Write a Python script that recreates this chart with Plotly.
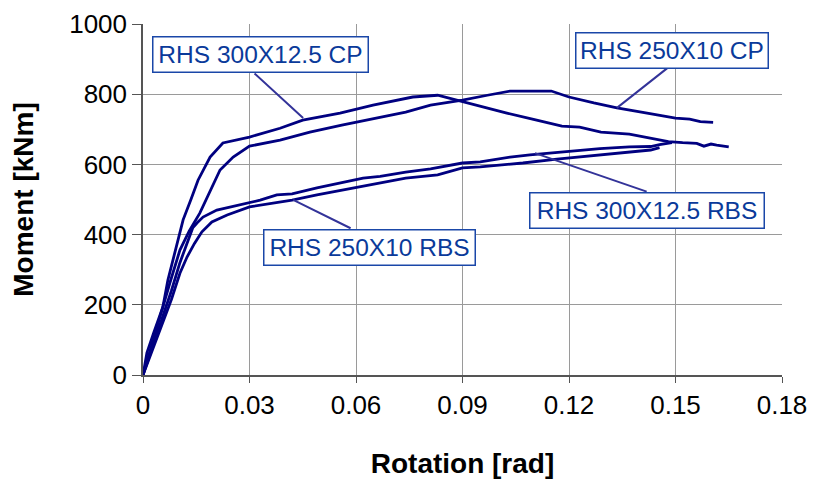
import plotly.graph_objects as go

# RHS 300X12.5 CP
x_300cp = [0, 0.0011, 0.003, 0.0056, 0.007, 0.0092, 0.0113, 0.0135, 0.0155, 0.0189, 0.0225,
           0.030, 0.0386, 0.045, 0.0555, 0.0648, 0.070, 0.076, 0.083, 0.090, 0.0965, 0.1025,
           0.110, 0.118, 0.123, 0.129, 0.137, 0.143, 0.148, 0.152, 0.156, 0.158, 0.160, 0.1616, 0.165]
y_300cp = [0, 63, 120, 194, 270, 360, 442, 500, 555, 621, 661,
           678, 703, 726, 746, 769, 780, 792, 797, 778, 762, 746,
           728, 709, 706, 692, 686, 675, 665, 662, 660, 652, 658, 655, 650]

# RHS 250X10 CP
x_250cp = [0, 0.002, 0.0048, 0.0075, 0.0104, 0.013, 0.016, 0.019, 0.0217, 0.0254, 0.030,
           0.0386, 0.047, 0.056, 0.0668, 0.074, 0.081, 0.090, 0.097, 0.1034, 0.115, 0.120,
           0.127, 0.1335, 0.142, 0.150, 0.154, 0.157, 0.1606]
y_250cp = [0, 70, 165, 260, 356, 410, 461, 525, 584, 621, 652,
           669, 692, 712, 735, 749, 769, 783, 797, 809, 809, 792,
           775, 761, 746, 732, 729, 722, 720]

# RHS 300X12.5 RBS
x_300rbs = [0, 0.002, 0.005, 0.008, 0.0104, 0.0125, 0.014, 0.0152, 0.0169, 0.0208, 0.029,
            0.033, 0.0377, 0.042, 0.049, 0.056, 0.062, 0.0668, 0.074, 0.081, 0.090, 0.095,
            0.1034, 0.109, 0.120, 0.124, 0.1287, 0.137, 0.143, 0.1455, 0.149]
y_300rbs = [0, 60, 150, 240, 320, 380, 419, 433, 450, 470, 490,
            498, 513, 516, 533, 547, 561, 566, 578, 587, 604, 607,
            621, 627, 638, 640, 645, 650, 651, 656, 662]

# RHS 250X10 RBS
x_250rbs = [0, 0.002, 0.005, 0.008, 0.0104, 0.0124, 0.0145, 0.0166, 0.0194, 0.0237, 0.030,
            0.034, 0.042, 0.049, 0.056, 0.062, 0.0668, 0.074, 0.083, 0.090, 0.095, 0.107,
            0.1166, 0.123, 0.1287, 0.137, 0.143, 0.1455]
y_250rbs = [0, 55, 135, 215, 290, 336, 375, 408, 436, 456, 479,
            486, 498, 513, 527, 538, 547, 561, 570, 590, 593, 604,
            615, 621, 627, 635, 641, 648]

labels = ["RHS 300X12.5 CP", "RHS 250X10 CP", "RHS 300X12.5 RBS", "RHS 250X10 RBS"]
# label box centres (data units) and sizes (px)
label_x = [0.0330, 0.1489, 0.1421, 0.0637]
label_y = [913, 924, 470, 363]
label_w = [212, 189, 231, 208]
# leader lines: start (near box) and tip (on curve)
lead_x0 = [0.0310, 0.1499, 0.1423, 0.0589]
lead_y0 = [863, 892, 521, 416]
lead_x1 = [0.0451, 0.1335, 0.1104, 0.0423]
lead_y1 = [732, 761, 632, 499]

FONT = "Liberation Sans, Arial, sans-serif"
NAVY = "#000080"
TXT = "#0a3a9a"

fig = go.Figure()
for xs, ys, name in [(x_300cp, y_300cp, labels[0]), (x_250cp, y_250cp, labels[1]),
                     (x_300rbs, y_300rbs, labels[2]), (x_250rbs, y_250rbs, labels[3])]:
    fig.add_trace(go.Scatter(x=xs, y=ys, mode="lines", name=name,
                             line=dict(color=NAVY, width=2.8), showlegend=False))

for i in range(4):
    fig.add_annotation(x=lead_x1[i], y=lead_y1[i], ax=lead_x0[i], ay=lead_y0[i],
                       xref="x", yref="y", axref="x", ayref="y", text="",
                       showarrow=True, arrowhead=0, arrowwidth=2, arrowcolor="#333399")
for i in range(4):
    fig.add_annotation(x=label_x[i], y=label_y[i], xref="x", yref="y", text=labels[i],
                       showarrow=False, font=dict(family=FONT, size=24.5, color=TXT),
                       bgcolor="white", bordercolor="#1a47a8", borderwidth=1.5, borderpad=1,
                       width=label_w[i], height=32)

fig.update_layout(
    width=813, height=479, autosize=False,
    margin=dict(l=143, r=31, t=24, b=104),
    paper_bgcolor="white", plot_bgcolor="white",
    font=dict(family=FONT, color="black"),
)
fig.update_xaxes(range=[0, 0.18], tick0=0, dtick=0.03, showgrid=True, gridcolor="#9a9a9a",
                 gridwidth=1, showline=True, linecolor="#555555", linewidth=1.5,
                 ticks="outside", ticklen=6, tickcolor="#555555", zeroline=False,
                 automargin=False,
                 tickfont=dict(family=FONT, size=26, color="black"),
                 title=dict(text="<b>Rotation [rad]</b>", font=dict(family=FONT, size=28, color="black"),
                            standoff=36))
fig.update_yaxes(range=[0, 1000], tick0=0, dtick=200, showgrid=True, gridcolor="#9a9a9a",
                 gridwidth=1, showline=True, linecolor="#555555", linewidth=1.5,
                 ticks="outside", ticklen=9, tickcolor="#555555", zeroline=False,
                 automargin=False,
                 tickfont=dict(family=FONT, size=26, color="black"),
                 title=dict(text="<b>Moment [kNm]</b>", font=dict(family=FONT, size=28, color="black"),
                            standoff=27))

fig.write_html("out.html")
